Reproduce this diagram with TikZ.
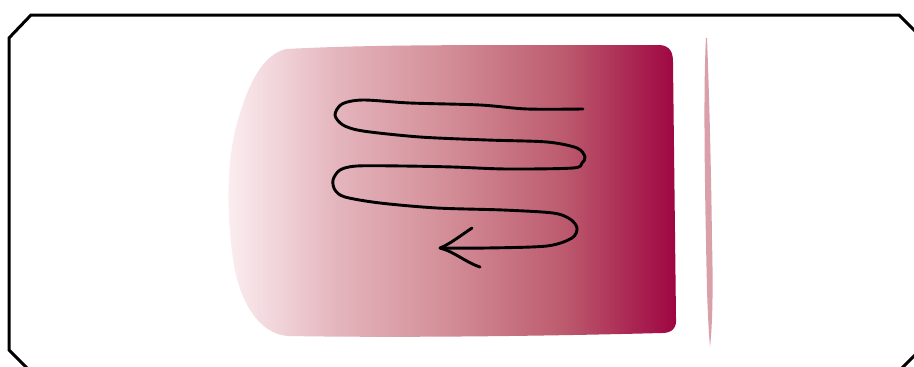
\documentclass[tikz,border=0pt]{standalone}
\pgfdeclarehorizontalshading{pinkshade}{100bp}{
  rgb(0bp)=(0.984,0.933,0.945);
  rgb(25bp)=(0.984,0.933,0.945);
  rgb(37.5bp)=(0.894,0.706,0.737);
  rgb(50bp)=(0.824,0.549,0.588);
  rgb(62.5bp)=(0.737,0.353,0.431);
  rgb(75bp)=(0.62,0.016,0.251);
  rgb(100bp)=(0.62,0.016,0.251)}
\begin{document}
\begin{tikzpicture}[x=1pt,y=-1pt,
  frame/.style={line width=3pt,line join=miter},
  squiggle/.style={line width=2.9pt,line cap=round,line join=round},
  sliverstyle/.style={fill=sliverpink,draw=none}]
\definecolor{sliverpink}{RGB}{217,160,170}
\useasboundingbox (0,0) rectangle (914,367);
\clip (0,0) rectangle (914,367);
\fill[white] (0,0) rectangle (914,367);
% frame
\draw[frame] (9,38) -- (31,15) -- (899,15) -- (925,41) -- (925,345) -- (900,370) -- (29,370) -- (9,350) -- cycle;
% gradient shape
\shade[shading=pinkshade]
  (286,49) .. controls (400,43) and (550,46) .. (660,45)
  .. controls (670,46) and (673,52) .. (673,62)
  -- (676,318)
  .. controls (677,328) and (672,333) .. (662,333)
  .. controls (550,336) and (400,338) .. (288,336)
  .. controls (258,334) and (240,300) .. (234,265)
  .. controls (226,215) and (226,160) .. (238,120)
  .. controls (248,85) and (262,55) .. (286,49) -- cycle;
% sliver
\fill[sliverstyle] (706,38) .. controls (703,90) and (705,200) .. (707,290)
  .. controls (708,320) and (709,335) .. (710,347)
  .. controls (713,320) and (713,280) .. (712,240)
  .. controls (711,160) and (709,90) .. (707,38) -- cycle;
% squiggle
\coordinate (s) at (583,109);
\coordinate (tip) at (440,248);
\coordinate (b1) at (472,228);
\coordinate (b2) at (480,267);
\draw[squiggle] plot[smooth,tension=0.5] coordinates {
 (583,109) (527,109) (480,105) (410,103) (363,100) (342,104) (335,115) (343,125) (363,131)
 (420,137) (487,140) (547,142) (577,148) (585,157) (582,163) (573,168) (507,169)
 (453,167) (403,166) (357,166) (340,170) (333,180) (335,190) (345,197) (380,203)
 (437,208) (503,210) (553,213) (570,219) (577,228) (572,238) (547,246) (487,248) (440,248)};
\draw[squiggle] (b1) .. controls (460,236) and (450,244) .. (tip) .. controls (455,252) and (465,262) .. (b2);
\end{tikzpicture}
\end{document}
